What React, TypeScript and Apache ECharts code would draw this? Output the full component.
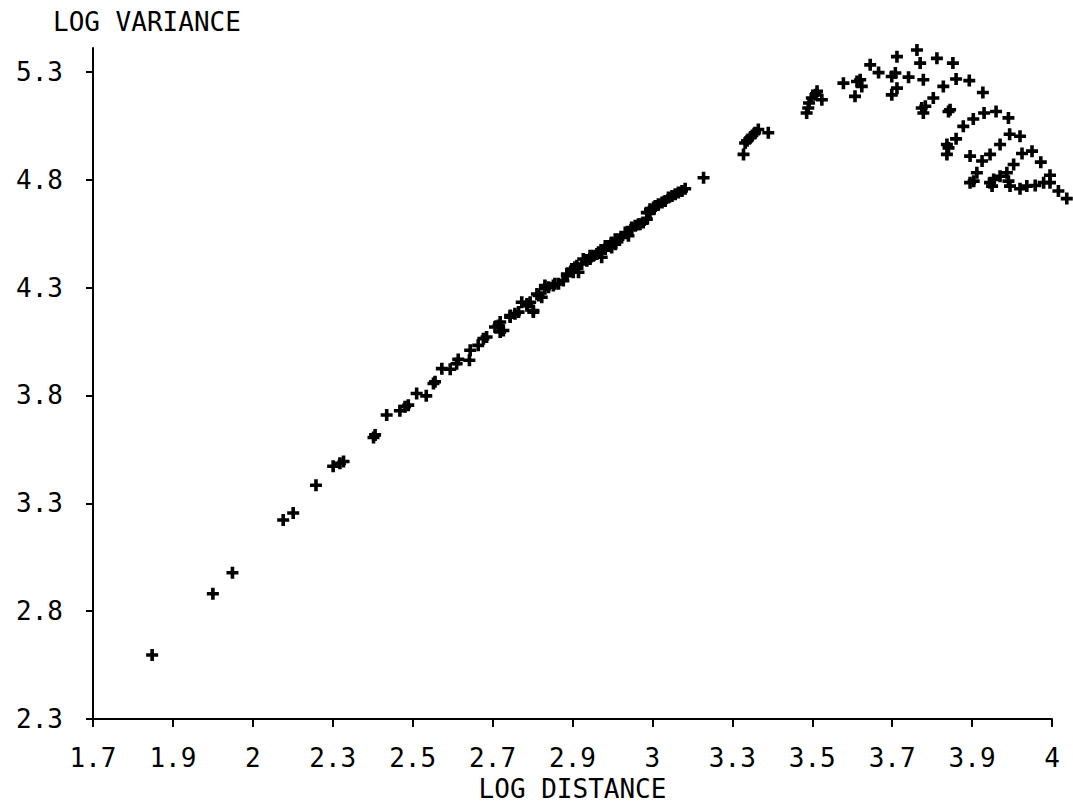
import React, { useEffect, useRef } from 'react';
import * as echarts from 'echarts';

const xTickValues = [1.7, 1.9, 2.1, 2.3, 2.5, 2.7, 2.9, 3.1, 3.3, 3.5, 3.7, 3.9, 4.1];
const xTickLabels = ['1.7', '1.9', '2', '2.3', '2.5', '2.7', '2.9', '3', '3.3', '3.5', '3.7', '3.9', '4'];
const yTickValues = [2.3, 2.8, 3.3, 3.8, 4.3, 4.8, 5.3];
const yTickLabels = ['2.3', '2.8', '3.3', '3.8', '4.3', '4.8', '5.3'];

const xAxisName = 'LOG DISTANCE';
const yAxisName = 'LOG VARIANCE';

// [log distance, log variance]
const lowerRun: [number, number][] = [
  [1.848, 2.597], [2.0, 2.881], [2.049, 2.978], [2.176, 3.223], [2.201, 3.255],
  [2.258, 3.384], [2.301, 3.472], [2.318, 3.486], [2.327, 3.494], [2.406, 3.617],
  [2.402, 3.605], [2.435, 3.709], [2.468, 3.729], [2.481, 3.748], [2.489, 3.755],
  [2.51, 3.809], [2.534, 3.798], [2.556, 3.863], [2.552, 3.855], [2.573, 3.924],
  [2.594, 3.921], [2.61, 3.947], [2.614, 3.967], [2.644, 4.009], [2.642, 3.963],
  [2.664, 4.032], [2.677, 4.063], [2.685, 4.071],
];

const midRun: [number, number][] = [
  [2.706, 4.117], [2.719, 4.094], [2.727, 4.101], [2.715, 4.124], [2.719, 4.14],
  [2.744, 4.163], [2.744, 4.17], [2.756, 4.178], [2.765, 4.186], [2.773, 4.232],
  [2.786, 4.224], [2.786, 4.216], [2.794, 4.232], [2.802, 4.193], [2.802, 4.186],
  [2.811, 4.27], [2.815, 4.263], [2.823, 4.255], [2.831, 4.294], [2.831, 4.309],
  [2.84, 4.301], [2.852, 4.309], [2.856, 4.317], [2.865, 4.317], [2.877, 4.332],
  [2.886, 4.363], [2.886, 4.355], [2.898, 4.386], [2.902, 4.371], [2.906, 4.394],
  [2.911, 4.401], [2.915, 4.371], [2.923, 4.409], [2.927, 4.432], [2.936, 4.424],
  [2.944, 4.432], [2.944, 4.447], [2.952, 4.447], [2.961, 4.455], [2.965, 4.463],
  [2.973, 4.44], [2.982, 4.478], [2.982, 4.493], [2.99, 4.493], [2.998, 4.509],
  [2.998, 4.486], [3.007, 4.501], [3.007, 4.524], [3.015, 4.524], [3.023, 4.532],
  [3.032, 4.555], [3.04, 4.54], [3.048, 4.57], [3.048, 4.578], [3.057, 4.586],
  [3.065, 4.593], [3.069, 4.593], [3.077, 4.601], [3.086, 4.617], [3.086, 4.647],
  [3.094, 4.647], [3.094, 4.663], [3.103, 4.663], [3.103, 4.671], [3.107, 4.678],
  [3.115, 4.686], [3.124, 4.694], [3.132, 4.701], [3.14, 4.717], [3.149, 4.724],
  [3.157, 4.732], [3.165, 4.74], [3.174, 4.747], [3.182, 4.758], [3.228, 4.809],
];

const upperArcs: [number, number][] = [
  [3.328, 4.917], [3.332, 4.97], [3.337, 4.98], [3.345, 4.994], [3.35, 5.005],
  [3.357, 5.017], [3.365, 5.032], [3.39, 5.017],
  [3.486, 5.109], [3.49, 5.132], [3.492, 5.155], [3.499, 5.178], [3.508, 5.193],
  [3.512, 5.209], [3.524, 5.17],
  [3.578, 5.247], [3.607, 5.186], [3.612, 5.255], [3.62, 5.263], [3.624, 5.232],
  [3.645, 5.332], [3.666, 5.296], [3.699, 5.278], [3.708, 5.294], [3.712, 5.224],
  [3.699, 5.193], [3.741, 5.275], [3.712, 5.37], [3.762, 5.401], [3.77, 5.34],
  [3.778, 5.263], [3.774, 5.132], [3.778, 5.109], [3.783, 5.14], [3.803, 5.178],
  [3.828, 5.232], [3.812, 5.362], [3.852, 5.34], [3.86, 5.266], [3.893, 5.259],
  [3.841, 5.116], [3.845, 5.124], [3.927, 5.204], [3.878, 5.047], [3.903, 5.081],
  [3.93, 5.109], [3.96, 5.116], [3.991, 5.086], [3.86, 4.989], [3.837, 4.963],
  [3.837, 4.917], [3.841, 4.947], [3.97, 4.963], [3.994, 5.01], [4.02, 5.001],
  [3.895, 4.909], [3.925, 4.886], [3.945, 4.917], [4.004, 4.87], [4.025, 4.921],
  [4.05, 4.932], [4.072, 4.881], [3.912, 4.832], [3.895, 4.786], [3.904, 4.793],
  [3.945, 4.786], [3.954, 4.801], [3.95, 4.77], [3.97, 4.816], [3.987, 4.832],
  [3.991, 4.793], [3.995, 4.77], [4.02, 4.758], [4.037, 4.77], [4.058, 4.773],
  [4.079, 4.786], [4.095, 4.82], [4.095, 4.786], [4.116, 4.747], [4.137, 4.712],
];

const FONT = '"DejaVu Sans Mono", monospace';
const PLUS = 'path://M3.5,0H6.5V3.5H10V6.5H6.5V10H3.5V6.5H0V3.5H3.5Z';

function labelFor(values: number[], labels: string[], v: number): string {
  const i = values.findIndex((t) => Math.abs(t - v) < 1e-6);
  return i >= 0 ? labels[i] : '';
}

export default function App() {
  const ref = useRef<HTMLDivElement>(null);

  useEffect(() => {
    if (!ref.current) return;
    const chart = echarts.init(ref.current, undefined, { renderer: 'svg' });
    const axisText = { color: '#000', fontFamily: FONT, fontSize: 26 };
    const seriesBase = {
      type: 'scatter' as const,
      symbol: PLUS,
      symbolSize: 12,
      clip: false,
      itemStyle: { color: '#000', opacity: 1 },
      emphasis: { disabled: true },
    };
    chart.setOption({
      animation: false,
      backgroundColor: '#fff',
      title: {
        text: yAxisName,
        left: 53,
        top: 9,
        padding: 0,
        textStyle: { ...axisText, fontWeight: 'normal' },
      },
      grid: { left: 93, right: 21, top: 48, bottom: 85, containLabel: false },
      xAxis: {
        type: 'value',
        min: 1.7,
        max: 4.1,
        name: xAxisName,
        nameLocation: 'middle',
        nameGap: 54,
        nameTextStyle: axisText,
        axisLine: { show: true, lineStyle: { color: '#000', width: 2 } },
        axisTick: {
          show: true,
          length: 8,
          customValues: xTickValues,
          lineStyle: { color: '#000', width: 2 },
        },
        axisLabel: {
          ...axisText,
          margin: 26,
          customValues: xTickValues,
          formatter: (v: number) => labelFor(xTickValues, xTickLabels, v),
        },
        splitLine: { show: false },
      },
      yAxis: {
        type: 'value',
        min: 2.3,
        max: 5.41,
        axisLine: { show: true, onZero: false, lineStyle: { color: '#000', width: 2 } },
        axisTick: {
          show: true,
          length: 7,
          customValues: yTickValues,
          lineStyle: { color: '#000', width: 2 },
        },
        axisLabel: {
          ...axisText,
          margin: 30,
          customValues: yTickValues,
          formatter: (v: number) => labelFor(yTickValues, yTickLabels, v),
        },
        splitLine: { show: false },
      },
      series: [
        { ...seriesBase, name: 'lower', data: lowerRun },
        { ...seriesBase, name: 'middle', data: midRun },
        { ...seriesBase, name: 'upper', data: upperArcs },
      ],
    });
    return () => chart.dispose();
  }, []);

  return (
    <div
      ref={ref}
      style={{ position: 'absolute', left: 0, top: 0, width: 1073, height: 807, background: '#fff' }}
    />
  );
}
